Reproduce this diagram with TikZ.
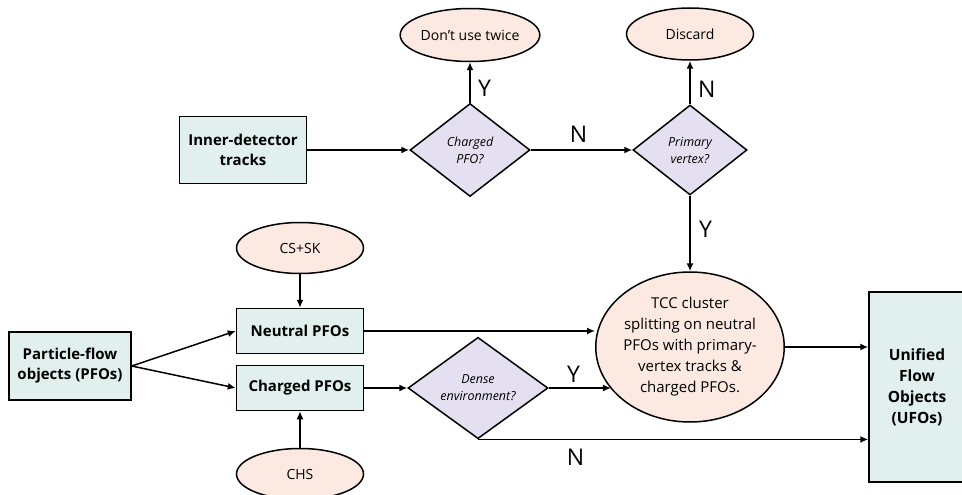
\documentclass[tikz,border=0pt]{standalone}
\usepackage{fontspec}
\setmainfont{Open Sans}
\usepackage{tikz}
\usetikzlibrary{arrows.meta,positioning,shapes.geometric}

\definecolor{boxfill}{RGB}{226,239,239}
\definecolor{ovalfill}{RGB}{252,233,225}
\definecolor{testfill}{RGB}{229,224,241}

\begin{document}
\begin{tikzpicture}[x=1pt, y=-1pt, line width=1.5pt,
    every node/.style={font=\fontsize{15}{20}\selectfont},
    procbox/.style={draw, fill=boxfill, align=center, inner sep=0pt, font=\fontsize{15}{20}\selectfont\bfseries},
    oval/.style={draw, ellipse, fill=ovalfill, align=center, inner sep=0pt, font=\fontsize{14}{19}\selectfont},
    test/.style={draw, diamond, fill=testfill, align=center, inner sep=0pt, font=\fontsize{12.5}{17}\selectfont\itshape},
    flow/.style={-{Latex[length=8pt,width=7pt]}},
    yn/.style={font=\fontsize{23}{23}\selectfont}]
  \useasboundingbox (0,0) rectangle (962,495);

  % top row: tracks
  \node[procbox, minimum width=127pt, minimum height=67pt] (idt) at (243,150) {Inner-detector\\tracks};
  \node[test, minimum width=120pt, minimum height=93pt] (chq) at (470,150) {Charged\\PFO?};
  \node[test, minimum width=114pt, minimum height=90pt] (pvq) at (690,150) {Primary\\vertex?};
  \node[oval, minimum width=128pt, minimum height=53pt] (twice) at (470,35) {Don’t use twice};
  \node[oval, minimum width=127pt, minimum height=52pt] (disc) at (690,34) {Discard};

  % lower part: PFOs
  \node[procbox, minimum width=122pt, minimum height=68pt] (pfo) at (70,366) {Particle-flow\\objects (PFOs)};
  \node[procbox, minimum width=127pt, minimum height=45pt] (neut) at (300,331) {Neutral PFOs};
  \node[procbox, minimum width=127pt, minimum height=45pt] (chrg) at (300,388) {Charged PFOs};
  \node[oval, minimum width=127pt, minimum height=51pt] (cssk) at (300,248) {CS+SK};
  \node[oval, minimum width=127pt, minimum height=51pt] (chs) at (300,474) {CHS};
  \node[test, minimum width=140pt, minimum height=98pt] (dense) at (478,388) {Dense\\environment?};
  \node[oval, minimum width=185pt, minimum height=150pt, font=\fontsize{15}{21}\selectfont] (tcc) at (690,347)
    {TCC cluster\\splitting on neutral\\PFOs with primary-\\vertex tracks \&\\charged PFOs.};
  \node[procbox, font=\fontsize{15.5}{21}\selectfont\bfseries, minimum width=96pt, minimum height=190pt] (ufo) at (917,387)
    {Unified\\Flow\\Objects\\(UFOs)};

  % connectors
  \draw[flow] (idt) -- (chq);
  \draw[flow] (chq) -- (pvq) node[yn, pos=0.47, above=3pt] (n1) {N};
  \draw[flow] (chq) -- (twice) node[yn, pos=0.35, right=4pt] (y1) {Y};
  \draw[flow] (pvq) -- (disc) node[yn, pos=0.35, right=4pt] (n2) {N};
  \draw[flow] (pvq) -- (tcc) node[yn, pos=0.45, right=5pt] (y2) {Y};

  \draw[flow] (pfo.east) -- (neut.west);
  \draw[flow] (pfo.east) -- (chrg.west);
  \draw[flow] (cssk) -- (neut);
  \draw[flow] (chs) -- (chrg);
  \draw[flow] (neut.east) -- (neut.east -| tcc.west);
  \draw[flow] (chrg) -- (dense);
  \draw[flow] (dense.east) -- (dense.east -| tcc.208) node[yn, pos=0.4, above=1pt] (y3) {Y};
  \draw[flow] (dense.south) -- (dense.south -| ufo.west) node[yn, pos=0.25, below=6pt] (n3) {N};
  \draw[flow] (tcc.east) -- (tcc.east -| ufo.west);
\end{tikzpicture}
\end{document}
